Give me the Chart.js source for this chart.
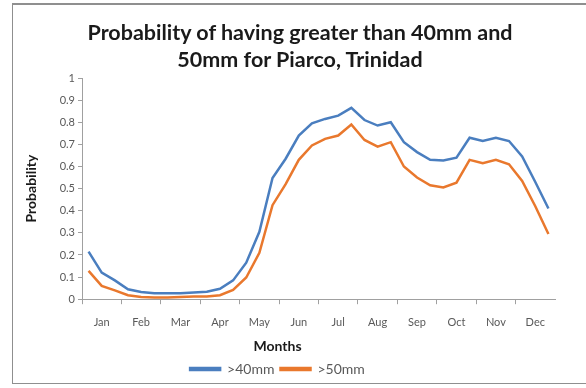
<!DOCTYPE html>
<html>
<head>
<meta charset="utf-8">
<script src="https://cdn.jsdelivr.net/npm/chart.js@4/dist/chart.umd.min.js"></script>
<style>
  html, body { margin: 0; padding: 0; background: #ffffff; }
  body { width: 586px; height: 388px; overflow: hidden; position: relative; }
  #frame {
    position: absolute; left: 12px; top: 3px; width: 600px; height: 381px;
    border: 1px solid #8f8f8f; border-top-width: 2px; box-sizing: border-box;
  }
  #title {
    position: absolute; left: 0; top: 19px; width: 600px; text-align: center;
    font: bold 21.5px Lato, "Open Sans", sans-serif; line-height: 27px; color: #1a1a1a;
  }
  #wrap { position: absolute; left: 0; top: 0; width: 586px; height: 388px; }
</style>
</head>
<body>
<div id="frame"></div>
<div id="wrap"><canvas id="chart" width="586" height="388"></canvas></div>
<div id="title">Probability of having greater than 40mm and<br>50mm for Piarco, Trinidad</div>
<script>
// Months, each split into three ten-day periods (dekads)
const months = ['Jan', 'Feb', 'Mar', 'Apr', 'May', 'Jun', 'Jul', 'Aug', 'Sep', 'Oct', 'Nov', 'Dec'];
const dekads = months.flatMap(m => [m + ' 1', m + ' 2', m + ' 3']);

// Probability of a dekad rainfall total above 40 mm
const over40 = [0.215, 0.12, 0.085, 0.045, 0.033, 0.027, 0.027, 0.027, 0.03, 0.034, 0.047, 0.085,
                0.165, 0.305, 0.548, 0.635, 0.74, 0.795, 0.815, 0.83, 0.865, 0.81, 0.785, 0.80,
                0.71, 0.665, 0.63, 0.627, 0.64, 0.73, 0.715, 0.73, 0.715, 0.645, 0.53, 0.41];

// Probability of a dekad rainfall total above 50 mm
const over50 = [0.128, 0.06, 0.04, 0.018, 0.01, 0.008, 0.008, 0.01, 0.012, 0.012, 0.018, 0.042,
                0.098, 0.21, 0.425, 0.52, 0.63, 0.695, 0.725, 0.74, 0.79, 0.72, 0.69, 0.71,
                0.6, 0.55, 0.515, 0.505, 0.527, 0.63, 0.615, 0.63, 0.61, 0.535, 0.42, 0.295];

const seriesNames = ['>40mm', '>50mm'];
const seriesColors = ['#4a7ebf', '#e9782d'];

const axisGrey = '#a0a0a0';
const labelGrey = '#595959';
const baseFont = 'Lato, "Open Sans", sans-serif';

new Chart(document.getElementById('chart'), {
  type: 'line',
  data: {
    labels: dekads,
    datasets: [over40, over50].map((values, i) => ({
      label: seriesNames[i],
      data: values,
      borderColor: seriesColors[i],
      backgroundColor: seriesColors[i],
      borderWidth: 2.5,
      pointRadius: 0,
      tension: 0,
      fill: false
    }))
  },
  options: {
    responsive: false,
    animation: false,
    layout: { padding: { left: 0, right: 31, top: 78, bottom: 2 } },
    plugins: {
      title: { display: false },
      tooltip: { enabled: false },
      legend: {
        position: 'bottom',
        title: {
          display: true,
          text: 'Months',
          color: '#1a1a1a',
          font: { family: baseFont, size: 14, weight: 'bold' },
          padding: { top: 2, bottom: 0 }
        },
        labels: {
          boxWidth: 30,
          boxHeight: 2,
          padding: 6,
          color: labelGrey,
          font: { family: baseFont, size: 14 }
        }
      }
    },
    scales: {
      x: {
        type: 'category',
        offset: true,
        grid: {
          offset: true,
          drawOnChartArea: false,
          drawTicks: true,
          tickLength: 5,
          color: ctx => (ctx.index % 3 === 0 ? axisGrey : 'rgba(0,0,0,0)')
        },
        border: { display: true, color: axisGrey, width: 1 },
        ticks: {
          autoSkip: false,
          maxRotation: 0,
          minRotation: 0,
          padding: 12,
          color: labelGrey,
          font: { family: baseFont, size: 11 },
          callback: (value, index) => (index % 3 === 1 ? months[Math.floor(index / 3)] : '')
        },
        afterFit: scale => { scale.height = 38; }
      },
      y: {
        min: 0,
        max: 1,
        ticks: {
          stepSize: 0.1,
          padding: 3,
          color: labelGrey,
          font: { family: baseFont, size: 11 },
          callback: v => String(+v.toFixed(1))
        },
        grid: {
          drawOnChartArea: false,
          drawTicks: true,
          tickLength: 4,
          color: axisGrey
        },
        border: { display: true, color: axisGrey, width: 1 },
        title: {
          display: true,
          text: 'Probability',
          color: '#1a1a1a',
          font: { family: baseFont, size: 14, weight: 'bold' },
          padding: { top: 23, bottom: 0 }
        },
        afterFit: scale => { scale.width = 82; }
      }
    }
  }
});
</script>
</body>
</html>
